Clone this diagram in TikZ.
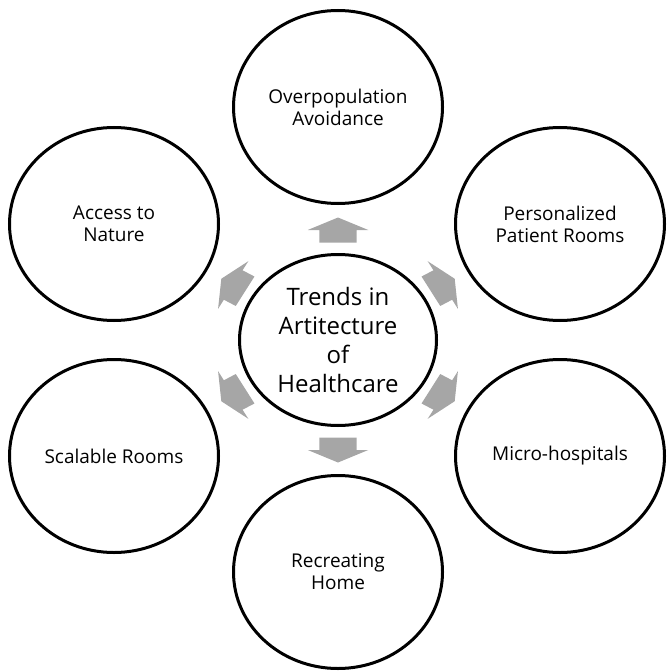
\documentclass[tikz,border=0pt]{standalone}
\usepackage{fontspec}
\setmainfont{Open Sans}
\usetikzlibrary{shapes.geometric}
\definecolor{arrowgray}{RGB}{166,166,166}
\tikzset{
  topic/.style={ellipse, draw=black, line width=3pt, fill=white,
    minimum width=209pt, minimum height=193pt, inner sep=0pt,
    align=center, font=\fontsize{19}{22}\selectfont},
  hub/.style={ellipse, draw=black, line width=3pt, fill=white,
    minimum width=197pt, minimum height=171pt, inner sep=0pt,
    align=center, font=\fontsize{24}{29.3}\selectfont},
  blockarrow/.style={fill=arrowgray}
}
% one outward block arrow, pointing along +x in local coordinates
\newcommand{\radialblockarrow}{%
  \fill[blockarrow] (-12.5pt,-17pt) -- (0pt,-17pt) -- (0pt,-27.5pt)
    -- (12.5pt,0pt) -- (0pt,27.5pt) -- (0pt,17pt) -- (-12.5pt,17pt) -- cycle;}
\begin{document}
\begin{tikzpicture}[x=1pt, y=-1pt]
  \useasboundingbox (0,0) rectangle (666,671);

  % outer topics
  \node[topic] (over)  at (338,107) {Overpopulation\\Avoidance};
  \node[topic] (pers)  at (560,224) {Personalized\\Patient Rooms};
  \node[topic] (micro) at (560,456) {Micro-hospitals};
  \node[topic] (home)  at (338,572) {Recreating\\Home};
  \node[topic] (scale) at (114,456) {Scalable Rooms};
  \node[topic] (nature) at (114,224) {Access to\\Nature};

  % central hub
  \node[hub] (hub) at (338,340) {Trends in\\Artitecture\\of\\Healthcare};

  % diverging block arrows
  \foreach \ang in {90,30,-30,-90,210,150}{
    \begin{scope}[shift={(hub.center)}, xscale=1.1, rotate=\ang, xshift=110pt]
      \radialblockarrow
    \end{scope}
  }
\end{tikzpicture}
\end{document}
